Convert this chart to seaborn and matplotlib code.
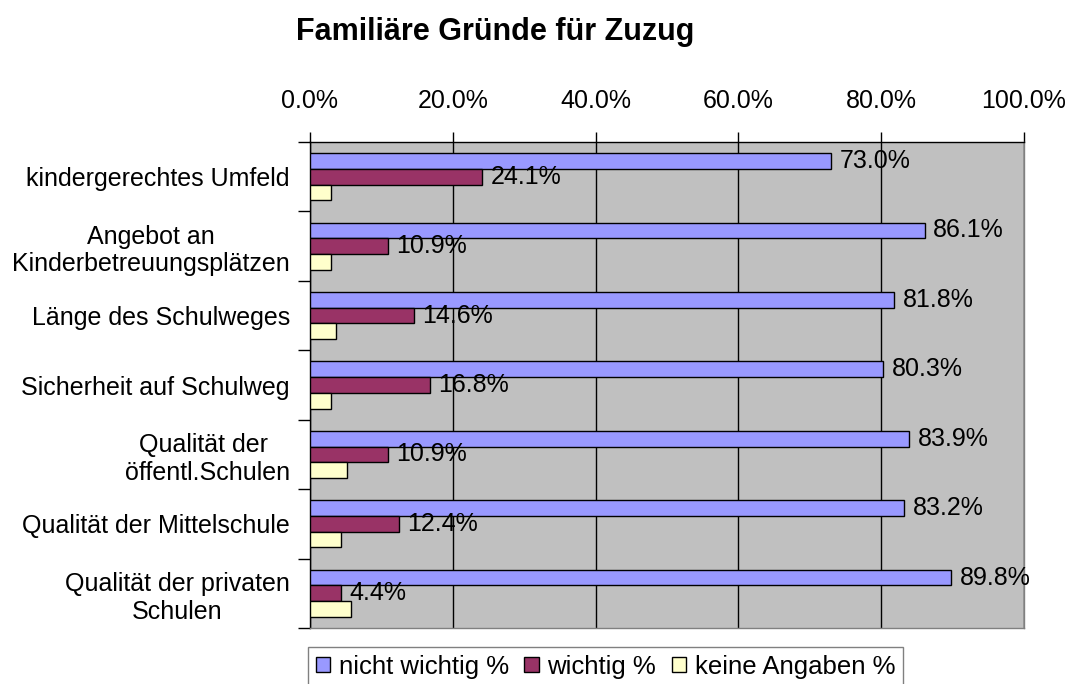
import pandas as pd
import matplotlib
matplotlib.use("Agg")
import matplotlib.pyplot as plt
from matplotlib.ticker import FuncFormatter, FixedLocator
import seaborn as sns

# data
categories = [
    "kindergerechtes Umfeld",
    "Angebot an\nKinderbetreuungsplätzen",
    "Länge des Schulweges",
    "Sicherheit auf Schulweg",
    "Qualität der \nöffentl.Schulen",
    "Qualität der Mittelschule",
    "Qualität der privaten\nSchulen",
]
nicht_wichtig = [73.0, 86.1, 81.8, 80.3, 83.9, 83.2, 89.8]
wichtig = [24.1, 10.9, 14.6, 16.8, 10.9, 12.4, 4.4]
keine_angaben = [2.9, 3.0, 3.6, 2.9, 5.2, 4.4, 5.8]
series = ["nicht wichtig %", "wichtig %", "keine Angaben %"]
colors = ["#9999FF", "#993366", "#FFFFCC"]

df = pd.DataFrame({
    "Kategorie": categories * 3,
    "Serie": [series[0]] * 7 + [series[1]] * 7 + [series[2]] * 7,
    "Wert": nicht_wichtig + wichtig + keine_angaben,
})

sns.set_style("white")
plt.rcParams["font.family"] = ["Liberation Sans", "DejaVu Sans"]
plt.rcParams["text.color"] = "black"
plt.rcParams["xtick.color"] = "black"
plt.rcParams["ytick.color"] = "black"

fig = plt.figure(figsize=(10.74, 6.84), dpi=100)
ax = fig.add_axes([310 / 1074, 1 - 628 / 684, 714 / 1074, 486 / 684])
ax.set_facecolor("#C0C0C0")

sns.barplot(data=df, y="Kategorie", x="Wert", hue="Serie", orient="h",
            palette=colors, width=0.68, edgecolor="black", linewidth=1,
            saturation=1, ax=ax, zorder=3)

# value labels only for the first two series
for cont in ax.containers[:2]:
    ax.bar_label(cont, fmt="%.1f%%", padding=6, fontsize=18, color="black", zorder=4)

ax.set_xlim(0, 100)
ax.set_ylim(6.5, -0.5)
ax.xaxis.tick_top()
ax.xaxis.set_major_locator(FixedLocator([0, 20, 40, 60, 80, 100]))
ax.xaxis.set_major_formatter(FuncFormatter(lambda v, p: f"{v:.1f}%"))
ax.tick_params(axis="x", top=True, direction="out", length=7, width=1,
               pad=14, labelsize=18, color="black")
ax.grid(axis="x", color="black", linewidth=1, zorder=1)
ax.set_axisbelow(True)

# y ticks between the groups, labels at the centres
ax.set_yticks([i - 0.5 for i in range(8)], minor=True)
ax.tick_params(axis="y", which="minor", left=True, direction="out",
               length=9, width=1, color="black")
ax.tick_params(axis="y", which="major", left=False, pad=11, labelsize=18)
for lab in ax.get_yticklabels():
    lab.set_multialignment("center")

ax.set_xlabel("")
ax.set_ylabel("")
for side in ["left", "top"]:
    ax.spines[side].set_color("black")
    ax.spines[side].set_linewidth(1)
for side in ["right", "bottom"]:
    ax.spines[side].set_color("#808080")
    ax.spines[side].set_linewidth(1)

ax.legend_.remove()
handles = [plt.Rectangle((0, 0), 1, 1, facecolor=c, edgecolor="black", linewidth=1)
           for c in colors]
leg = fig.legend(handles, series, loc="upper left", bbox_to_anchor=(308 / 1074, 1 - 647 / 684),
                 ncol=3, frameon=True, fancybox=False, fontsize=18.5,
                 handlelength=0.55, handleheight=0.55, handletextpad=0.35,
                 columnspacing=0.6, borderpad=0.3, borderaxespad=0)
leg.get_frame().set_edgecolor("#606060")
leg.get_frame().set_linewidth(1)

fig.text(495 / 1074, 1 - 32 / 684, "Familiäre Gründe für Zuzug", ha="center",
         va="center", fontsize=22, fontweight="bold")

fig.savefig("out.png", dpi=100, facecolor="white")
